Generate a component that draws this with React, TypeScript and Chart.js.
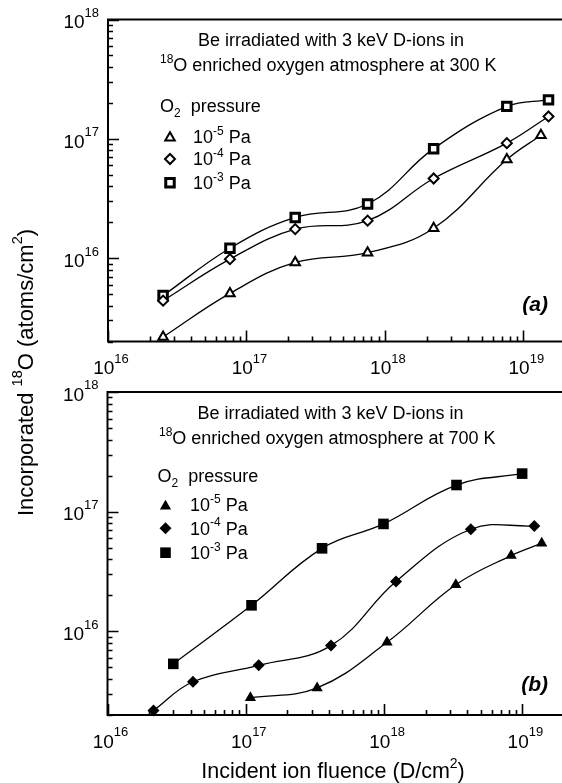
import React, { useEffect, useRef } from "react";
import { Chart, registerables } from "chart.js";

Chart.register(...registerables);

// ---------------- data ----------------
// Panel (a): 300 K
const aTriX = [2.5e16, 7.6e16, 2.25e17, 7.5e17, 2.25e18, 7.6e18, 1.34e19];
const aTriY = [2.18e15, 5.06e15, 9.2e15, 1.11e16, 1.78e16, 6.7e16, 1.07e17];
const aDiaX = [2.5e16, 7.6e16, 2.25e17, 7.5e17, 2.25e18, 7.6e18, 1.52e19];
const aDiaY = [4.4e15, 9.8e15, 1.75e16, 2.06e16, 4.65e16, 9.2e16, 1.54e17];
const aSqX = [2.5e16, 7.6e16, 2.25e17, 7.5e17, 2.25e18, 7.6e18, 1.52e19];
const aSqY = [4.85e15, 1.21e16, 2.19e16, 2.84e16, 8.27e16, 1.87e17, 2.12e17];

// Panel (b): 700 K
const bTriX = [1.08e17, 3.28e17, 1.05e18, 3.3e18, 8.3e18, 1.38e19];
const bTriY = [2.79e15, 3.37e15, 8.1e15, 2.45e16, 4.3e16, 5.45e16];
const bDiaX = [2.15e16, 4.15e16, 1.24e17, 4.13e17, 1.22e18, 4.24e18, 1.22e19];
const bDiaY = [2.18e15, 3.79e15, 5.2e15, 7.6e15, 2.61e16, 7.13e16, 7.6e16];
const bSqX = [2.99e16, 1.1e17, 3.56e17, 9.9e17, 3.34e18, 9.96e18];
const bSqY = [5.35e15, 1.65e16, 4.94e16, 7.9e16, 1.67e17, 2.08e17];

// axes
const xMin = 1e16;
const xMax = 2e19;
const yMin = 2e15;
const yMax = 1e18;
const xDecades = [16, 17, 18, 19];
const yDecades = [15, 16, 17, 18];
const xLabelExps = ["16", "17", "18", "19"];
const yLabelExps = ["16", "17", "18"];

// legend / text
const pressureExps = ["-5", "-4", "-3"];
const temperatures = ["300", "700"];
const panelLabels = ["(a)", "(b)"];
const titleLine1 = "Be irradiated with 3 keV D-ions in";
const xTitle = "Incident ion fluence (D/cm";
const yTitle = "Incorporated ";

// ---------------- drawing helpers ----------------
const FONT = '"Liberation Sans", Arial, Helvetica, sans-serif';

type Part = { t: string; s?: "sup" | "sub" };
type RichOpts = {
  size: number;
  small?: number;
  raise?: number;
  drop?: number;
  align?: "left" | "center" | "right";
  weight?: string;
};

function drawRich(ctx: CanvasRenderingContext2D, parts: Part[], x: number, yMid: number, o: RichOpts) {
  const size = o.size;
  const small = o.small ?? size * 0.65;
  const raise = o.raise ?? size * 0.48;
  const drop = o.drop ?? size * 0.22;
  const w = o.weight ?? "normal";
  const font = (s: number) => `${w} ${s}px ${FONT}`;
  let total = 0;
  const widths = parts.map((p) => {
    ctx.font = font(p.s ? small : size);
    const m = ctx.measureText(p.t).width;
    total += m;
    return m;
  });
  let cx = o.align === "center" ? x - total / 2 : o.align === "right" ? x - total : x;
  const base = yMid + size * 0.358;
  ctx.textBaseline = "alphabetic";
  ctx.textAlign = "left";
  ctx.fillStyle = "#000";
  parts.forEach((p, i) => {
    ctx.font = font(p.s ? small : size);
    const y = p.s === "sup" ? base - raise : p.s === "sub" ? base + drop : base;
    ctx.fillText(p.t, cx, y);
    cx += widths[i];
  });
}

function marker(ctx: CanvasRenderingContext2D, style: string, x: number, y: number, r: number, fill: string, bw: number) {
  ctx.beginPath();
  if (style === "rect") {
    const s = Math.SQRT1_2 * r;
    ctx.rect(x - s, y - s, 2 * s, 2 * s);
  } else if (style === "rectRot") {
    ctx.moveTo(x - r, y);
    ctx.lineTo(x, y - r);
    ctx.lineTo(x + r, y);
    ctx.lineTo(x, y + r);
    ctx.closePath();
  } else {
    let a = 0;
    ctx.moveTo(x + Math.sin(a) * r, y - Math.cos(a) * r);
    a += (2 * Math.PI) / 3;
    ctx.lineTo(x + Math.sin(a) * r, y - Math.cos(a) * r);
    a += (2 * Math.PI) / 3;
    ctx.lineTo(x + Math.sin(a) * r, y - Math.cos(a) * r);
    ctx.closePath();
  }
  ctx.fillStyle = fill;
  ctx.fill();
  if (bw > 0) {
    ctx.lineWidth = bw;
    ctx.strokeStyle = "#000";
    ctx.stroke();
  }
}

// ---------------- panel setup ----------------
type SeriesDef = { xs: number[]; ys: number[]; style: string; r: number; bw: number };
type PanelDef = {
  idx: number;
  filled: boolean;
  series: SeriesDef[];
  area: { left: number; top: number; right: number; bottom: number };
  title1: [number, number];
  title2: [number, number];
  legendHead: [number, number];
  legendSymX: number;
  legendTextX: number;
  legendRowsY: number[];
  labelPos: [number, number];
  drawYTitle: boolean;
  drawXTitle: boolean;
};

const CW = 580;
const CH = 783;

const panelA: PanelDef = {
  idx: 0,
  filled: false,
  series: [
    { xs: aTriX, ys: aTriY, style: "triangle", r: 5.5, bw: 2 },
    { xs: aDiaX, ys: aDiaY, style: "rectRot", r: 5, bw: 2 },
    { xs: aSqX, ys: aSqY, style: "rect", r: 6, bw: 3 },
  ],
  area: { left: 108, top: 19.5, right: 565, bottom: 341.5 },
  title1: [198, 39.5],
  title2: [160, 65],
  legendHead: [160, 106],
  legendSymX: 170,
  legendTextX: 193,
  legendRowsY: [136.7, 159, 182.7],
  labelPos: [548, 303],
  drawYTitle: true,
  drawXTitle: false,
};

const panelB: PanelDef = {
  idx: 1,
  filled: true,
  series: [
    { xs: bTriX, ys: bTriY, style: "triangle", r: 6.5, bw: 0 },
    { xs: bDiaX, ys: bDiaY, style: "rectRot", r: 6, bw: 0 },
    { xs: bSqX, ys: bSqY, style: "rect", r: 7.5, bw: 0 },
  ],
  area: { left: 107.5, top: 392, right: 564, bottom: 715 },
  title1: [197.5, 412.5],
  title2: [159, 438],
  legendHead: [157.5, 476],
  legendSymX: 165.5,
  legendTextX: 190,
  legendRowsY: [505, 528.3, 552.7],
  labelPos: [548, 683],
  drawYTitle: false,
  drawXTitle: true,
};

function decorPlugin(p: PanelDef) {
  return {
    id: "decor" + p.idx,
    beforeDatasetsDraw(chart: any) {
      const ctx: CanvasRenderingContext2D = chart.ctx;
      const { left, top, right, bottom } = chart.chartArea;
      const xs = chart.scales.x;
      const ys = chart.scales.y;
      ctx.save();
      // frame
      ctx.strokeStyle = "#000";
      ctx.lineWidth = 2;
      ctx.strokeRect(left, top, right - left, bottom - top);
      // ticks
      ctx.lineWidth = 1.6;
      ctx.beginPath();
      xDecades.forEach((d) => {
        for (let m = 1; m <= 9; m++) {
          const v = m * Math.pow(10, d);
          if (v < xMin || v > xMax) continue;
          const px = Math.round(xs.getPixelForValue(v)) + 0.5;
          const len = m === 1 ? 11 : 5;
          ctx.moveTo(px, bottom);
          ctx.lineTo(px, bottom - len);
        }
      });
      yDecades.forEach((d) => {
        for (let m = 1; m <= 9; m++) {
          const v = m * Math.pow(10, d);
          if (v < yMin || v > yMax) continue;
          const py = Math.round(ys.getPixelForValue(v)) + 0.5;
          const len = m === 1 ? 11 : 5;
          ctx.moveTo(left, py);
          ctx.lineTo(left + len, py);
        }
      });
      ctx.stroke();
      ctx.restore();
    },
    afterDatasetsDraw(chart: any) {
      const ctx: CanvasRenderingContext2D = chart.ctx;
      const { left, bottom } = chart.chartArea;
      const xs = chart.scales.x;
      const ys = chart.scales.y;
      ctx.save();
      const tick = { size: 19, small: 13, raise: 11.4 };
      // x tick labels
      xLabelExps.forEach((e) => {
        const px = xs.getPixelForValue(Math.pow(10, Number(e)));
        drawRich(ctx, [{ t: "10" }, { t: e, s: "sup" }], px + 3, bottom + 26, { ...tick, align: "center" });
      });
      // y tick labels
      yLabelExps.forEach((e) => {
        const py = ys.getPixelForValue(Math.pow(10, Number(e)));
        drawRich(ctx, [{ t: "10" }, { t: e, s: "sup" }], left - 9, py + 2, { ...tick, align: "right" });
      });
      // panel titles
      const ts = { size: 18, small: 12, raise: 8.6 };
      drawRich(ctx, [{ t: titleLine1 }], p.title1[0], p.title1[1], ts);
      drawRich(
        ctx,
        [{ t: "18", s: "sup" }, { t: `O enriched oxygen atmosphere at ${temperatures[p.idx]} K` }],
        p.title2[0],
        p.title2[1],
        ts
      );
      // legend
      drawRich(ctx, [{ t: "O" }, { t: "2", s: "sub" }, { t: "  pressure" }], p.legendHead[0], p.legendHead[1], {
        size: 18,
        small: 12,
        drop: 4.5,
      });
      p.series.forEach((s, i) => {
        const y = p.legendRowsY[i];
        const yy = s.style === "triangle" ? y + s.r * 0.2 : y;
        marker(ctx, s.style, p.legendSymX, yy, s.r, p.filled ? "#000" : "#fff", p.filled ? 0 : s.bw);
        drawRich(ctx, [{ t: "10" }, { t: pressureExps[i], s: "sup" }, { t: " Pa" }], p.legendTextX, y, ts);
      });
      // panel label
      drawRich(ctx, [{ t: panelLabels[p.idx] }], p.labelPos[0], p.labelPos[1], {
        size: 21,
        align: "right",
        weight: "italic bold",
      });
      // axis titles
      if (p.drawXTitle) {
        drawRich(ctx, [{ t: xTitle }, { t: "2", s: "sup" }, { t: ")" }], 333, 770, {
          size: 21.5,
          small: 14,
          raise: 10,
          align: "center",
        });
      }
      if (p.drawYTitle) {
        ctx.translate(25, 372.5);
        ctx.rotate(-Math.PI / 2);
        drawRich(
          ctx,
          [{ t: yTitle }, { t: "18", s: "sup" }, { t: "O (atoms/cm" }, { t: "2", s: "sup" }, { t: ")" }],
          0,
          0,
          { size: 22, small: 14.5, raise: 10.5, align: "center" }
        );
      }
      ctx.restore();
    },
  };
}

function makeChart(canvas: HTMLCanvasElement, p: PanelDef) {
  const datasets = p.series.map((s) => ({
    data: s.xs.map((x, i) => ({ x, y: s.ys[i] })),
    borderColor: "#000",
    borderWidth: 1.3,
    pointStyle: s.style,
    pointRadius: s.r,
    pointBorderWidth: s.bw,
    pointBackgroundColor: p.filled ? "#000" : "#fff",
    pointBorderColor: "#000",
    tension: 0.4,
    fill: false,
    clip: false as any,
  }));
  return new Chart(canvas, {
    type: "line",
    data: { datasets: datasets as any },
    options: {
      animation: false,
      responsive: false,
      devicePixelRatio: 1,
      events: [],
      layout: {
        padding: {
          left: p.area.left,
          top: p.area.top,
          right: CW - p.area.right,
          bottom: CH - p.area.bottom,
        },
      },
      plugins: { legend: { display: false }, tooltip: { enabled: false }, title: { display: false } },
      scales: {
        x: { type: "logarithmic", min: xMin, max: xMax, display: false },
        y: { type: "logarithmic", min: yMin, max: yMax, display: false },
      },
    },
    plugins: [decorPlugin(p)],
  });
}

export default function App() {
  const refA = useRef<HTMLCanvasElement>(null);
  const refB = useRef<HTMLCanvasElement>(null);
  useEffect(() => {
    const charts = [makeChart(refA.current!, panelA), makeChart(refB.current!, panelB)];
    return () => charts.forEach((c) => c.destroy());
  }, []);
  const cs: React.CSSProperties = { position: "absolute", left: 0, top: 0, width: CW, height: CH };
  return (
    <div
      style={{
        position: "absolute",
        left: 0,
        top: 0,
        width: 562,
        height: 783,
        overflow: "hidden",
        background: "#fff",
      }}
    >
      <canvas ref={refA} width={CW} height={CH} style={cs} />
      <canvas ref={refB} width={CW} height={CH} style={cs} />
    </div>
  );
}
